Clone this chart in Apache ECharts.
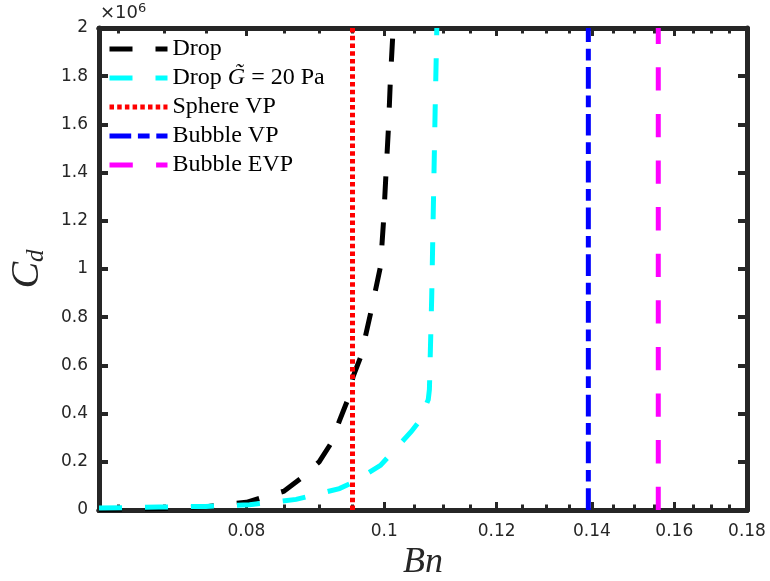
<!DOCTYPE html>
<html>
<head>
<meta charset="utf-8">
<script src="https://cdn.jsdelivr.net/npm/echarts@6/dist/echarts.min.js"></script>
<style>html,body{margin:0;padding:0;background:#fff;}#c{width:770px;height:581px;}</style>
</head>
<body>
<div id="c"></div>
<script>
// Bn values and Cd values (in units of 10^6)
const bnDrop = [0.063, 0.07, 0.075, 0.08, 0.085, 0.0875, 0.09, 0.0918, 0.093, 0.0943, 0.0951, 0.0963, 0.0979, 0.0994, 0.0999, 0.1003, 0.1007, 0.1010, 0.1014, 0.10155];
const cdDrop = [0.002, 0.006, 0.014, 0.032, 0.078, 0.134, 0.2, 0.279, 0.37, 0.46, 0.555, 0.638, 0.825, 1.01, 1.2, 1.4, 1.59, 1.78, 1.97, 2.0];
const bnDropG = [0.063, 0.0694, 0.0749, 0.0804, 0.0867, 0.093, 0.095, 0.0994, 0.1045, 0.1058, 0.1074, 0.1076, 0.1080, 0.1083, 0.1086, 0.1089];
const cdDropG = [0.008, 0.012, 0.015, 0.022, 0.044, 0.089, 0.114, 0.185, 0.326, 0.367, 0.458, 0.5, 0.882, 1.268, 1.654, 2.0];
const bnSphereVP = 0.095;
const bnBubbleVP = 0.1392;
const bnBubbleEVP = 0.1559;
const cdRange = [0, 2];
const xMajorTicks = [0.08, 0.1, 0.12, 0.14, 0.16, 0.18];
const xMinorTicks = [0.065, 0.07, 0.075, 0.085, 0.09, 0.095, 0.105, 0.11, 0.115, 0.125, 0.13, 0.135, 0.145, 0.15, 0.155, 0.165, 0.17, 0.175];
const names = ['Drop', 'Drop G\u0303 = 20 Pa', 'Sphere VP', 'Bubble VP', 'Bubble EVP'];

const AX = '#262626';
const chart = echarts.init(document.getElementById('c'), null, {renderer: 'canvas'});
const zip = (a, b) => a.map((v, i) => [v, b[i]]);
const vline = x => cdRange.map(y => [x, y]);

function xAxisDef(pos, ticks, len, labels) {
  return {
    type: 'log', logBase: 10, min: 0.063, max: 0.18, position: pos,
    axisLine: {show: true, onZero: false, lineStyle: {color: AX, width: 5}},
    axisTick: {show: true, inside: true, length: len, customValues: ticks, lineStyle: {color: AX, width: 3}},
    axisLabel: labels ? {show: true, customValues: ticks, color: AX, fontFamily: 'DejaVu Sans', fontSize: 17, margin: 13, formatter: v => String(+(+v).toFixed(3))} : {show: false},
    splitLine: {show: false}, minorTick: {show: false}
  };
}
const xAxes = [xAxisDef('bottom', xMajorTicks, 8, true), xAxisDef('bottom', xMinorTicks, 5.5, false), xAxisDef('top', xMajorTicks, 8, false), xAxisDef('top', xMinorTicks, 5.5, false)];
xAxes[0].name = 'Bn';
xAxes[0].nameLocation = 'middle';
xAxes[0].nameGap = 31;
xAxes[0].nameTextStyle = {fontFamily: 'Liberation Serif', fontStyle: 'italic', fontSize: 36, color: AX};

function yAxisDef(pos, labels) {
  return {
    type: 'value', min: cdRange[0], max: cdRange[1], interval: 0.2, position: pos,
    axisLine: {show: true, onZero: false, lineStyle: {color: AX, width: 5}},
    axisTick: {show: true, inside: true, length: 9, lineStyle: {color: AX, width: 4}},
    axisLabel: labels ? {show: true, color: AX, fontFamily: 'DejaVu Sans', fontSize: 17, margin: 11} : {show: false},
    splitLine: {show: false}
  };
}
const yAxes = [yAxisDef('left', true), yAxisDef('right', false)];
yAxes[0].name = '{c|C}{d|d}';
yAxes[0].nameLocation = 'middle';
yAxes[0].nameRotate = 90;
yAxes[0].nameGap = 50;
yAxes[0].nameTextStyle = {rich: {
  c: {fontFamily: 'Liberation Serif', fontStyle: 'italic', fontSize: 40, color: AX},
  d: {fontFamily: 'Liberation Serif', fontStyle: 'italic', fontSize: 25, color: AX, padding: [18, 0, 0, 0]}
}};

function lineSeries(name, data, color, dash, z) {
  return {
    name, type: 'line', data, xAxisIndex: 0, yAxisIndex: 0, symbol: 'none', showSymbol: false,
    clip: true, z, animation: false,
    lineStyle: {color, width: 5, type: dash, cap: 'butt', join: 'miter'},
    itemStyle: {color}
  };
}

const option = {
  backgroundColor: '#fff',
  animation: false,
  grid: {left: 99, right: 23, top: 28, bottom: 71, containLabel: false, outerBoundsMode: 'none'},
  xAxis: xAxes,
  yAxis: yAxes,
  legend: {
    show: true, orient: 'vertical', left: 107, top: 37, padding: 0,
    itemWidth: 58, itemHeight: 20, itemGap: 5,
    data: names,
    itemStyle: {opacity: 0},
    lineStyle: {width: 5},
    formatter: n => n === names[1] ? '{r|Drop }{i|G\u0303}{r| = 20 Pa}' : '{r|' + n + '}',
    textStyle: {color: '#000', rich: {
      r: {fontFamily: 'Liberation Serif', fontSize: 24, color: '#000'},
      i: {fontFamily: 'Liberation Serif', fontStyle: 'italic', fontSize: 24, color: '#000'}
    }}
  },
  graphic: [{
    type: 'text', left: 100, top: 2,
    style: {text: '{a|\u00d710}{b|6}', rich: {
      a: {fontFamily: 'DejaVu Sans', fontSize: 18, fill: AX},
      b: {fontFamily: 'DejaVu Sans', fontSize: 13, fill: AX, padding: [0, 0, 10, 0]}
    }}
  }],
  series: [
    lineSeries(names[0], zip(bnDrop, cdDrop), '#000000', [23, 23], 2),
    lineSeries(names[1], zip(bnDropG, cdDropG), '#00FFFF', [23, 23], 3),
    lineSeries(names[2], vline(bnSphereVP), '#FF0000', [4.5, 3.2], 4),
    lineSeries(names[3], vline(bnBubbleVP), '#0000FF', [21.7, 6.7, 11.7, 6.7], 5),
    lineSeries(names[4], vline(bnBubbleEVP), '#FF00FF', [23.3, 23.3], 6)
  ]
};
chart.setOption(option);
</script>
</body>
</html>
